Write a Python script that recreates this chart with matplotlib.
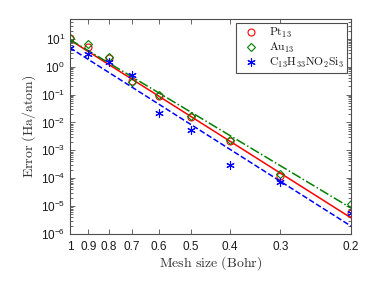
import numpy as np
import matplotlib
matplotlib.use("Agg")
import matplotlib.pyplot as plt
from matplotlib.ticker import LogLocator, NullFormatter, FixedLocator

plt.rcParams['font.family'] = ['Liberation Sans', 'DejaVu Sans']
plt.rcParams['mathtext.fontset'] = 'custom'
plt.rcParams['mathtext.rm'] = 'Liberation Sans'
plt.rcParams['mathtext.it'] = 'Liberation Sans:italic'

mesh = [1.0, 0.9, 0.8, 0.7, 0.6, 0.5, 0.4, 0.3, 0.2]
err_pt = [10.5, 5.3, 2.0, 0.32, 0.089, 0.0155, 0.0022, 0.00012, 5.5e-6]
err_au = [11.0, 6.6, 2.2, 0.28, 0.10, 0.017, 0.0024, 0.000138, 1.2e-5]
err_c = [4.9, 2.8, 1.5, 0.51, 0.022, 0.0054, 0.0003, 7.2e-5, 5.5e-6]
# fitted power laws: err = fit_const * h**fit_rate
fit_rate = [9.14, 8.65, 9.16]
fit_const = [9.2, 9.4, 4.8]
labels = [r'$\mathrm{Pt_{13}}$', r'$\mathrm{Au_{13}}$', r'$\mathrm{C_{13}H_{33}NO_{2}Si_{3}}$']
xtick_vals = [1, 0.9, 0.8, 0.7, 0.6, 0.5, 0.4, 0.3, 0.2]
xtick_labels = ['1', '0.9', '0.8', '0.7', '0.6', '0.5', '0.4', '0.3', '0.2']
ytick_vals = [1e-6, 1e-5, 1e-4, 1e-3, 1e-2, 1e-1, 1e0, 1e1]

fig = plt.figure(figsize=(3.82, 2.87), dpi=100)
ax = fig.add_axes([0.183, 0.185, 0.736, 0.749])

series = [
    (err_pt, 'red', 'o', '-', 5, 'none'),
    (err_au, (0, 0.5, 0), 'D', '-.', 4, 'none'),
    (err_c, 'blue', (6, 2, 0), '--', 6, 'blue'),
]
xs = np.array(mesh)
handles = []
for (vals, col, mk, ls, ms, mfc), lab, r, c in zip(series, labels, fit_rate, fit_const):
    h, = ax.plot(xs, vals, linestyle='none', marker=mk, mfc=mfc,
                 mec=col, ms=ms, mew=0.8, label=lab)
    handles.append(h)
    ax.plot(xs, c * xs ** r, color=col, ls=ls, lw=1.1)

ax.set_xscale('log')
ax.set_yscale('log')
ax.set_xlim(1, 0.2)
ax.set_ylim(1e-6, 52)
ax.xaxis.set_major_locator(FixedLocator(xtick_vals))
ax.set_xticklabels(xtick_labels)
ax.xaxis.set_minor_locator(FixedLocator([]))
ax.yaxis.set_major_locator(FixedLocator(ytick_vals))
ax.set_yticklabels([r'$10^{%d}$' % int(np.log10(v)) for v in ytick_vals])
ax.yaxis.set_minor_locator(LogLocator(base=10, subs=np.arange(2, 10), numticks=20))
ax.yaxis.set_minor_formatter(NullFormatter())

gray = '#4d4d4d'
for s in ax.spines.values():
    s.set_color(gray)
    s.set_linewidth(0.8)
ax.tick_params(which='both', direction='in', top=True, right=True, colors=gray,
               labelcolor='#1a1a1a', labelsize=8.5, width=0.6)
ax.tick_params(which='major', length=3.5)
ax.tick_params(which='minor', length=2)
ax.tick_params(axis='x', pad=5)

xl = ax.set_xlabel(r'$\mathrm{Mesh\ size\ (Bohr)}$', fontsize=10, color='#333333', labelpad=1)
yl = ax.set_ylabel(r'$\mathrm{Error\ (Ha/atom)}$', fontsize=10, color='#333333', labelpad=2)
xl.set_math_fontfamily('cm')
yl.set_math_fontfamily('cm')

leg = ax.legend(handles=handles, loc='upper right', fontsize=8.4, fancybox=False,
                edgecolor=gray, framealpha=1, borderaxespad=0.35, handlelength=2.2,
                labelspacing=0.1, borderpad=0.25, handletextpad=0.4)
leg.get_frame().set_linewidth(0.8)
for t in leg.get_texts():
    t.set_math_fontfamily('cm')
    t.set_color('#1a1a1a')

fig.savefig('out.png', dpi=100)
